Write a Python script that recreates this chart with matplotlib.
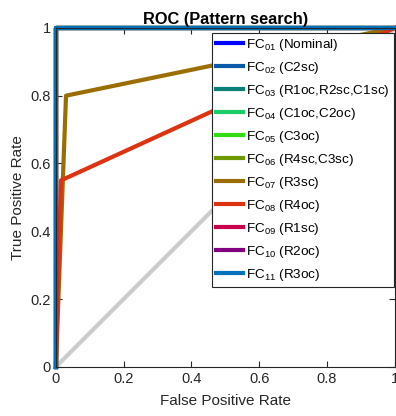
import numpy as np
from matplotlib import pyplot as plt

labels = ['FC$_{01}$ (Nominal)', 'FC$_{02}$ (C2sc)', 'FC$_{03}$ (R1oc,R2sc,C1sc)',
          'FC$_{04}$ (C1oc,C2oc)', 'FC$_{05}$ (C3oc)', 'FC$_{06}$ (R4sc,C3sc)',
          'FC$_{07}$ (R3sc)', 'FC$_{08}$ (R4oc)', 'FC$_{09}$ (R1sc)',
          'FC$_{10}$ (R2oc)', 'FC$_{11}$ (R3oc)']
colors = ['#0000ff', '#0a5aa8', '#0a8078', '#1ccc64', '#33dd11', '#6e9900',
          '#9a6e00', '#dd3311', '#c8004c', '#800080', '#0072bd']

# ROC points (FPR, TPR) per fault class
fpr = [[0, 0, 1]] * 6 + [[0, 0.03, 1], [0, 0.015, 1]] + [[0, 0, 1]] * 3
tpr = [[0, 1, 1]] * 6 + [[0, 0.8, 1], [0, 0.55, 1]] + [[0, 1, 1]] * 3

plt.rcParams['font.family'] = 'Liberation Sans'
plt.rcParams['mathtext.fontset'] = 'custom'
plt.rcParams['mathtext.rm'] = 'Liberation Sans'
fig = plt.figure(figsize=(3.96, 4.16), dpi=100)
ax = fig.add_axes([0.141, 0.118, 0.856, 0.815])

ax.plot([0, 1], [0, 1], color='#cccccc', lw=3)
for i in range(len(labels)):
    ax.plot(fpr[i], tpr[i], color=colors[i], lw=3, label=labels[i], clip_on=False)

ax.set_xlim(0, 1)
ax.set_ylim(0, 1)
ax.set_xticks(np.arange(0, 1.01, 0.2))
ax.set_yticks(np.arange(0, 1.01, 0.2))
ax.set_xticklabels(['0', '0.2', '0.4', '0.6', '0.8', '1'])
ax.set_yticklabels(['0', '0.2', '0.4', '0.6', '0.8', '1'])
ax.tick_params(direction='in', top=True, right=True, labelsize=10.5, colors='#262626', length=4)
for s in ax.spines.values():
    s.set_color('#262626')
ax.set_xlabel('False Positive Rate', fontsize=11, color='#262626', labelpad=6)
ax.set_ylabel('True Positive Rate', fontsize=11, color='#262626')
ax.set_title('ROC (Pattern search)', fontsize=11.8, fontweight='bold', pad=3)

leg = ax.legend(loc='upper right', bbox_to_anchor=(0.997, 0.985), fontsize=9.7, handlelength=2.0,
                handletextpad=0.25, borderaxespad=0.0, labelspacing=0.52, fancybox=False,
                framealpha=1, edgecolor='#262626', borderpad=0.3)
leg.get_frame().set_linewidth(0.8)

fig.savefig('out.png')
